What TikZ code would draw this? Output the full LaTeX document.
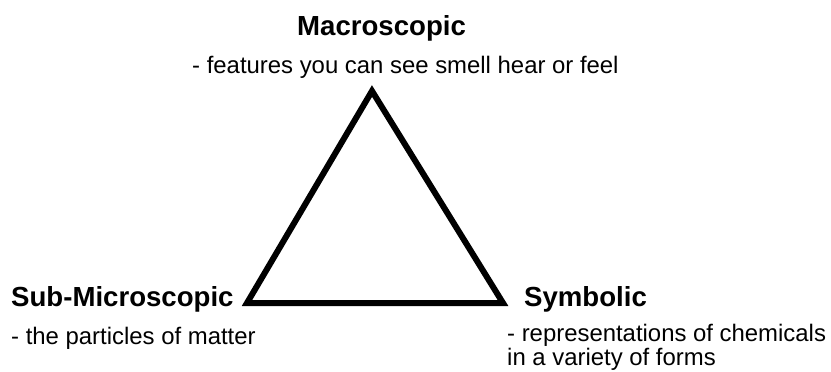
\documentclass[tikz,border=0pt]{standalone}
\usepackage{fontspec}
\setmainfont{Liberation Sans}
\begin{document}
\begin{tikzpicture}[x=1pt,y=-1pt,
  head/.style={font=\fontsize{27.6}{30}\selectfont\bfseries,inner sep=0pt,anchor=base west},
  note/.style={font=\fontsize{23.9}{21}\selectfont,inner sep=0pt,anchor=base west,align=left}]
  \useasboundingbox (0,0) rectangle (831,372);
  \coordinate (top) at (372,91);
  \coordinate (left) at (247,303);
  \coordinate (right) at (503,303);
  \node[head] (macro) at (297,35) {Macroscopic};
  \node[note] (macronote) at (192,73) {- features you can see smell hear or feel};
  \node[head] (submicro) at (11,306) {Sub-Microscopic};
  \node[note] (submicronote) at (11,344) {- the particles of matter};
  \node[head] (symbolic) at (524,306) {Symbolic};
  % base of a two-line node sits on its last line
  \node[note] (symbolicnote) at (507,365) {- representations of chemicals\\in a variety of forms};
  \draw[line width=6pt] (top) -- (left) -- (right) -- cycle;
\end{tikzpicture}
\end{document}
